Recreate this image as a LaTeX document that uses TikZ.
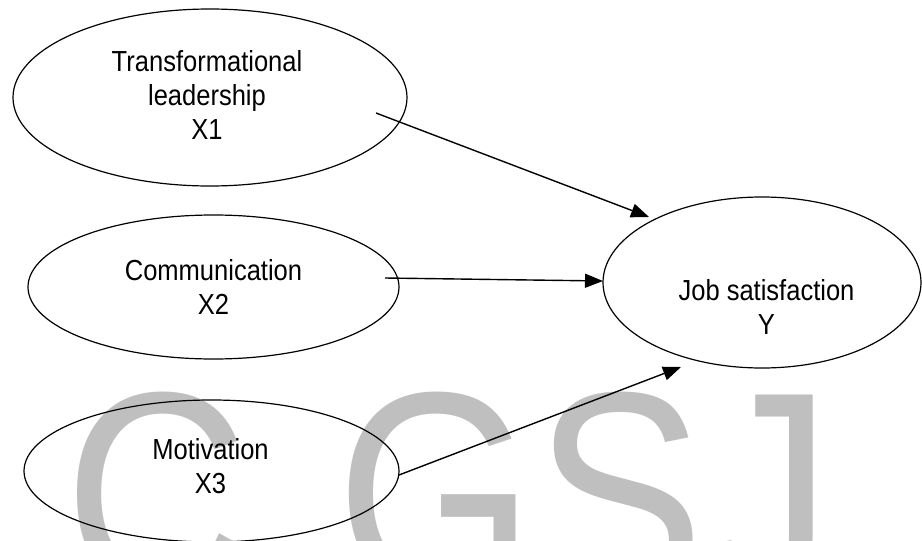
\documentclass[tikz,border=0pt]{standalone}
\usepackage{fontspec}
\setmainfont{Liberation Sans}
\newfontfamily\diagfont{Liberation Sans}[FakeStretch=0.88]
\newfontfamily\wmfont{Liberation Sans}[FakeStretch=0.88]
\usetikzlibrary{arrows.meta,shapes.geometric}
\begin{document}
\begin{tikzpicture}[x=1pt,y=-1pt,
  latent/.style={draw, ellipse, line width=1.2pt, inner sep=0pt},
  lbl/.style={align=center, font=\diagfont\fontsize{29}{34}\selectfont, inner sep=0pt},
  link/.style={-{Triangle[length=18pt,width=14pt]}, line width=1.4pt},
  wm/.style={text=black!25, font=\wmfont\fontsize{290}{290}\selectfont, inner sep=0pt, anchor=base west}
]
\useasboundingbox (0,0) rectangle (922,541);
\begin{scope}
  \clip (0,0) rectangle (922,541);
  \node[wm] (wmc) at (64,594) {C};
  \node[wm] (wmgsj) at (336,594) {GSJ};
\end{scope}

\node[latent, minimum width=394pt, minimum height=177pt] (x1) at (210,97.5) {};
\node[latent, minimum width=371pt, minimum height=144pt] (x2) at (213.5,287) {};
\node[latent, minimum width=375pt, minimum height=142pt] (x3) at (211.5,471) {};
\node[latent, minimum width=318pt, minimum height=171pt] (y) at (762,282.5) {};

\node[lbl] (t1) at (207,95) {Transformational\\leadership\\X1};
\node[lbl] (t2) at (213.5,287) {Communication\\X2};
\node[lbl] (t3) at (210.5,466) {Motivation\\X3};
\node[lbl] (t4) at (766.5,307) {Job satisfaction\\Y};

\coordinate (s1) at (376,113);
\coordinate (e1) at (649,217);
\coordinate (s2) at (385,278);
\coordinate (e2) at (603,281);
\coordinate (s3) at (399,475);
\coordinate (e3) at (681,367);
\draw[link] (s1) -- (e1);
\draw[link] (s2) -- (e2);
\draw[link] (s3) -- (e3);
\end{tikzpicture}
\end{document}
